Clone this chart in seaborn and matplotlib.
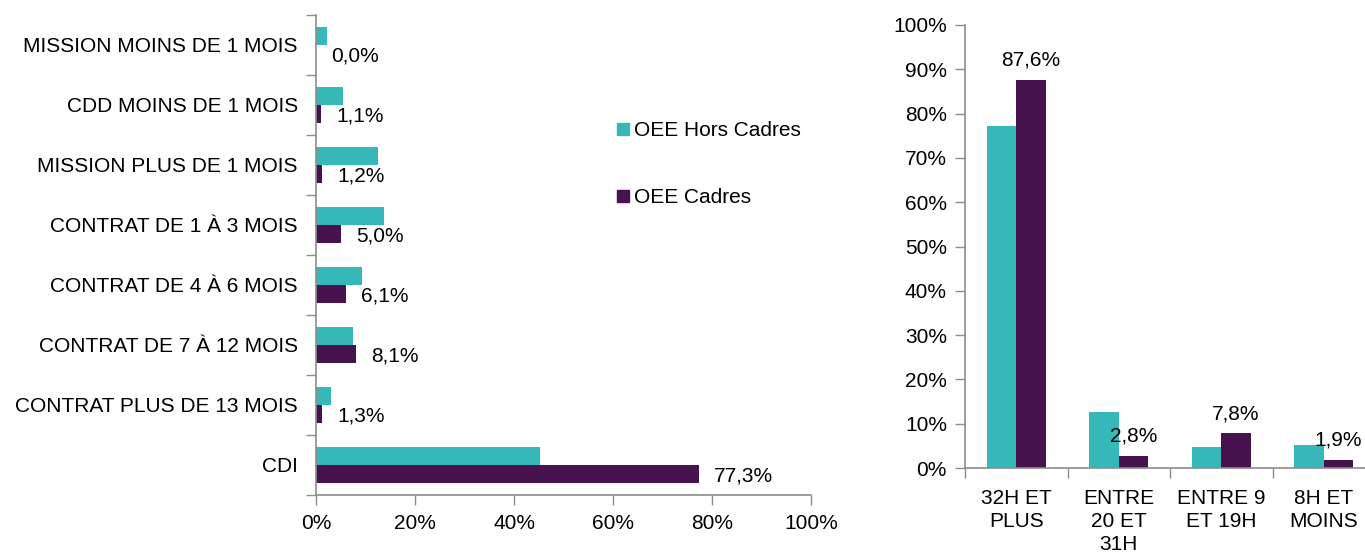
import matplotlib
matplotlib.use("Agg")
import matplotlib.pyplot as plt
import seaborn as sns
import pandas as pd
import numpy as np
from matplotlib.ticker import FuncFormatter, FixedLocator
from matplotlib.lines import Line2D

sns.set_theme(style="white")
plt.rcParams['font.family'] = ['Liberation Sans', 'DejaVu Sans']
plt.rcParams['text.color'] = 'black'
plt.rcParams['xtick.color'] = 'black'
plt.rcParams['ytick.color'] = 'black'

# ---------------- data ----------------
contrats = ["MISSION MOINS DE 1 MOIS", "CDD MOINS DE 1 MOIS", "MISSION PLUS DE 1 MOIS",
            "CONTRAT DE 1 À 3 MOIS", "CONTRAT DE 4 À 6 MOIS", "CONTRAT DE 7 À 12 MOIS",
            "CONTRAT PLUS DE 13 MOIS", "CDI"]
contrat_hors_cadres = [2.2, 5.5, 12.6, 13.7, 9.3, 7.5, 3.1, 45.3]
contrat_cadres = [0.0, 1.1, 1.2, 5.0, 6.1, 8.1, 1.3, 77.3]

temps = ["32H ET\nPLUS", "ENTRE\n20 ET\n31H", "ENTRE 9\nET 19H", "8H ET\nMOINS"]
temps_hors_cadres = [77.3, 12.7, 4.7, 5.1]
temps_cadres = [87.6, 2.8, 7.8, 1.9]

series = ["OEE Hors Cadres", "OEE Cadres"]
colors = ["#35B8B7", "#47134F"]

left_ticks = [0, 20, 40, 60, 80, 100]
right_ticks = list(range(0, 101, 10))

df_left = pd.DataFrame({
    "cat": contrats * 2,
    "val": contrat_hors_cadres + contrat_cadres,
    "serie": [series[0]] * len(contrats) + [series[1]] * len(contrats),
})
df_right = pd.DataFrame({
    "cat": temps * 2,
    "val": temps_hors_cadres + temps_cadres,
    "serie": [series[0]] * len(temps) + [series[1]] * len(temps),
})

W, H = 1365, 557
fig = plt.figure(figsize=(W / 100, H / 100), dpi=100)
FS = 15
AXC = "#8C8C8C"

def fmt(v):
    return f"{v:.1f}".replace(".", ",") + "%"

# ---------------- left chart ----------------
axl = fig.add_axes([316 / W, 1 - 495 / H, (811 - 316) / W, (495 - 15) / H])
sns.barplot(data=df_left, y="cat", x="val", hue="serie", orient="h",
            palette=colors, saturation=1, width=0.6, ax=axl, legend=False, linewidth=0,
            hue_order=series, order=contrats)
axl.set_xlim(0, 100)
axl.set_ylim(len(contrats) - 0.5, -0.5)
axl.set_xlabel("")
axl.set_ylabel("")
axl.xaxis.set_major_locator(FixedLocator(left_ticks))
axl.xaxis.set_major_formatter(FuncFormatter(lambda v, p: f"{v:.0f}%"))
axl.yaxis.set_minor_locator(FixedLocator(np.arange(-0.5, len(contrats), 1.0)))
axl.tick_params(axis="y", which="major", length=0, pad=13, labelsize=FS, labelcolor="black")
axl.tick_params(axis="y", which="minor", length=7, width=1, color=AXC, left=True)
axl.tick_params(axis="x", which="major", length=7, width=1, color=AXC, bottom=True,
                labelsize=FS, pad=7, labelcolor="black")
for s in ["top", "right"]:
    axl.spines[s].set_visible(False)
for s in ["left", "bottom"]:
    axl.spines[s].set_color(AXC)
    axl.spines[s].set_linewidth(1.2)

for bar, v in zip(axl.containers[1], contrat_cadres):
    y = bar.get_y() + bar.get_height() / 2
    axl.annotate(fmt(v), (bar.get_width(), y), xytext=(15, -2),
                 textcoords="offset pixels", ha="left", va="center", fontsize=FS)

# legend
handles = [Line2D([], [], marker="s", linestyle="", markersize=9, color=c) for c in colors]
fig.legend(handles, series, loc="upper left", bbox_to_anchor=(604 / W, 1 - 113 / H),
           frameon=False, fontsize=FS, labelspacing=2.3, handletextpad=0.05,
           handlelength=1.0, borderaxespad=0)

# ---------------- right chart ----------------
axr = fig.add_axes([965 / W, 1 - 468 / H, (1375 - 965) / W, (468 - 25) / H])
sns.barplot(data=df_right, x="cat", y="val", hue="serie",
            palette=colors, saturation=1, width=0.58, ax=axr, legend=False, linewidth=0,
            hue_order=series, order=temps)
axr.set_ylim(0, 100)
axr.set_xlim(-0.5, len(temps) - 0.5)
axr.set_xlabel("")
axr.set_ylabel("")
axr.yaxis.set_major_locator(FixedLocator(right_ticks))
axr.yaxis.set_major_formatter(FuncFormatter(lambda v, p: f"{v:.0f}%"))
axr.xaxis.set_minor_locator(FixedLocator(np.arange(-0.5, len(temps), 1.0)))
axr.tick_params(axis="x", which="major", length=0, pad=15, labelsize=FS, labelcolor="black")
axr.tick_params(axis="x", which="minor", length=7, width=1, color=AXC, bottom=True)
axr.tick_params(axis="y", which="major", length=7, width=1, color=AXC, left=True,
                labelsize=FS, pad=6, labelcolor="black")
for lab in axr.get_xticklabels():
    lab.set_linespacing(1.28)
for s in ["top", "right"]:
    axr.spines[s].set_visible(False)
for s in ["left", "bottom"]:
    axr.spines[s].set_color(AXC)
    axr.spines[s].set_linewidth(1.2)

for bar, v in zip(axr.containers[1], temps_cadres):
    x = bar.get_x() + bar.get_width() / 2
    axr.annotate(fmt(v), (x, bar.get_height()), xytext=(0, 10),
                 textcoords="offset pixels", ha="center", va="bottom", fontsize=FS)

fig.savefig("out.png", dpi=100)
